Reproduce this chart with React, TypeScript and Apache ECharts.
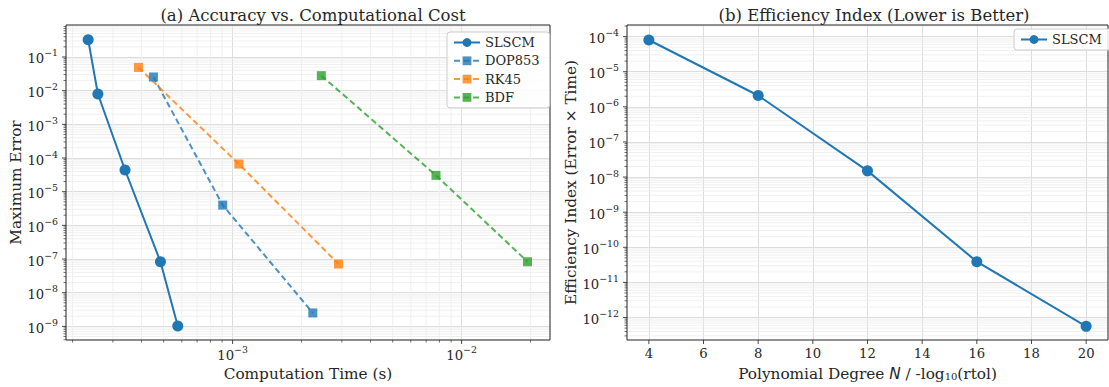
import React, { useEffect, useRef } from "react";
import * as echarts from "echarts";

const FONT = "DejaVu Serif";
const TEXT = "#262626";
const BLUE = "#1f77b4";
const ORANGE = "#ff7f0e";
const GREEN = "#2ca02c";
const MAJOR_GRID = "#dddddd";
const MINOR_GRID = "#ececec";
const TICK = "#333333";

const TITLE_SIZE = 16.5;
const NAME_SIZE = 15.3;
const TICK_SIZE = 13.2;
const SUP_SIZE = 9.4;
const LEGEND_SIZE = 13;

// ---- data ----
const methodNames = ["SLSCM", "DOP853", "RK45", "BDF"];
const slscmTime = [2.34e-4, 2.58e-4, 3.39e-4, 4.84e-4, 5.76e-4];
const slscmError = [0.327, 7.96e-3, 4.4e-5, 8.3e-8, 1.02e-9];
const dop853Time = [4.51e-4, 9.05e-4, 2.24e-3];
const dop853Error = [2.55e-2, 4.0e-6, 2.5e-9];
const rk45Time = [3.88e-4, 1.065e-3, 2.9e-3];
const rk45Error = [4.9e-2, 6.6e-5, 7.1e-8];
const bdfTime = [2.44e-3, 7.73e-3, 1.94e-2];
const bdfError = [2.79e-2, 3.05e-5, 8.3e-8];
const degrees = [4, 8, 12, 16, 20];
const efficiency = [8.0e-5, 2.1e-6, 1.5e-8, 3.9e-11, 5.6e-13];
const degreeTicks = [4, 6, 8, 10, 12, 14, 16, 18, 20];

// axis ranges (log10 exponents for log axes)
const leftXRange = [-3.7276, -1.614];
const leftYRange = [-9.405, -0.05];
const rightXRange = [3.2, 20.8];
const rightYRange = [-12.64, -3.67];

const zip = (a: number[], b: number[]) => a.map((v, i) => [v, b[i]]);

function logMajor(lo: number, hi: number): number[] {
  const out: number[] = [];
  for (let d = Math.ceil(lo); d <= Math.floor(hi); d++) out.push(Math.pow(10, d));
  return out;
}
function logMinor(lo: number, hi: number): number[] {
  const out: number[] = [];
  for (let d = Math.floor(lo); d <= Math.ceil(hi); d++) {
    for (let m = 2; m <= 9; m++) {
      const v = m * Math.pow(10, d);
      const l = Math.log10(v);
      if (l > lo && l < hi) out.push(v);
    }
  }
  return out;
}

const supLabel = (v: number) => {
  const e = Math.log10(v);
  const r = Math.round(e);
  if (Math.abs(e - r) > 1e-6) return "";
  return `{b|10}{s|${r < 0 ? "\u2212" : ""}${Math.abs(r)}}`;
};

const supRich = {
  b: { fontFamily: FONT, fontSize: TICK_SIZE, color: TEXT, lineHeight: 17, verticalAlign: "bottom" },
  s: { fontFamily: FONT, fontSize: SUP_SIZE, color: TEXT, lineHeight: 8, verticalAlign: "top" },
};

function decor(
  xAxisIndex: number,
  yAxisIndex: number,
  xMajor: number[],
  xMinor: number[],
  yMajor: number[],
  yMinor: number[],
  ref: number[]
) {
  return {
    type: "custom",
    xAxisIndex,
    yAxisIndex,
    z: 1,
    silent: true,
    clip: false,
    data: [ref],
    renderItem: (params: any, api: any) => {
      const cs = params.coordSys;
      const L = cs.x,
        T = cs.y,
        R = cs.x + cs.width,
        B = cs.y + cs.height;
      const ch: any[] = [];
      const ln = (x1: number, y1: number, x2: number, y2: number, stroke: string, w: number) =>
        ch.push({ type: "line", silent: true, shape: { x1, y1, x2, y2 }, style: { stroke, lineWidth: w } });
      xMinor.forEach((v) => {
        const x = api.coord([v, ref[1]])[0];
        ln(x, T, x, B, MINOR_GRID, 0.8);
      });
      yMinor.forEach((v) => {
        const y = api.coord([ref[0], v])[1];
        ln(L, y, R, y, MINOR_GRID, 0.8);
      });
      xMinor.forEach((v) => {
        const x = api.coord([v, ref[1]])[0];
        ln(x, B, x, B + 2.5, TICK, 0.7);
      });
      xMajor.forEach((v) => {
        const x = api.coord([v, ref[1]])[0];
        ln(x, B, x, B + 4, TICK, 0.9);
      });
      yMinor.forEach((v) => {
        const y = api.coord([ref[0], v])[1];
        ln(L - 2.5, y, L, y, TICK, 0.7);
      });
      yMajor.forEach((v) => {
        const y = api.coord([ref[0], v])[1];
        ln(L - 4, y, L, y, TICK, 0.9);
      });
      ch.push({
        type: "rect",
        silent: true,
        shape: { x: L, y: T, width: cs.width, height: cs.height },
        style: { fill: "none", stroke: "#222222", lineWidth: 1 },
      });
      return { type: "group", children: ch };
    },
  };
}

const logAxisCommon = (range: number[]) => ({
  type: "log",
  logBase: 10,
  min: Math.pow(10, range[0]),
  max: Math.pow(10, range[1]),
  splitNumber: 10,
  axisLine: { show: false },
  axisTick: { show: false },
  splitLine: { show: true, showMinLine: false, showMaxLine: false, lineStyle: { color: MAJOR_GRID, width: 1 } },
  minorTick: { show: false },
  minorSplitLine: { show: false },
});

const legendCommon = {
  orient: "vertical",
  padding: [3, 10, 3, 6],
  itemGap: 3.3,
  itemWidth: 26,
  itemHeight: 11,
  backgroundColor: "rgba(255,255,255,0.85)",
  borderColor: "#cccccc",
  borderWidth: 1,
  borderRadius: 3,
  textStyle: { fontFamily: FONT, fontSize: LEGEND_SIZE, color: TEXT, lineHeight: 15 },
};

export default function App() {
  const ref = useRef<HTMLDivElement>(null);
  useEffect(() => {
    if (!ref.current) return;
    const chart = echarts.init(ref.current, undefined, { renderer: "svg" });
    const lineBase = { type: "line", z: 3, showSymbol: true, emphasis: { disabled: true } };
    const option: any = {
      animation: false,
      backgroundColor: "#ffffff",
      textStyle: { fontFamily: FONT },
      title: [
        {
          text: "(a) Accuracy vs. Computational Cost",
          left: 308,
          top: 2,
          textAlign: "center",
          textStyle: { fontFamily: FONT, fontSize: TITLE_SIZE, fontWeight: "normal", color: TEXT },
        },
        {
          text: "(b) Efficiency Index (Lower is Better)",
          left: 869,
          top: 2,
          textAlign: "center",
          textStyle: { fontFamily: FONT, fontSize: TITLE_SIZE, fontWeight: "normal", color: TEXT },
        },
      ],
      grid: [
        { left: 66, top: 25, width: 484, height: 315, show: false, outerBoundsMode: "none" },
        { left: 627, top: 25, width: 481, height: 315, show: false, outerBoundsMode: "none" },
      ],
      legend: [
        { ...legendCommon, data: methodNames, left: 447, top: 32 },
        { ...legendCommon, data: ["SLSCM"], left: 1014, top: 29 },
      ],
      xAxis: [
        {
          ...logAxisCommon(leftXRange),
          gridIndex: 0,
          name: "Computation Time (s)",
          nameLocation: "middle",
          nameGap: 23,
          nameTextStyle: { fontFamily: FONT, fontSize: NAME_SIZE, color: TEXT },
          axisLabel: {
            margin: 5,
            showMinLabel: false,
            showMaxLabel: false,
            formatter: supLabel,
            rich: supRich,
          },
        },
        {
          type: "value",
          gridIndex: 1,
          min: rightXRange[0],
          max: rightXRange[1],
          splitNumber: 8,
          axisLine: { show: false },
          axisTick: { show: false },
          splitLine: { show: true, showMinLine: false, showMaxLine: false, lineStyle: { color: MAJOR_GRID, width: 1 } },
          name: "{t|Polynomial Degree }{i|N}{t| / -log}{sub|10}{t|(rtol)}",
          nameLocation: "middle",
          nameGap: 23,
          nameTextStyle: {
            rich: {
              t: { fontFamily: FONT, fontSize: NAME_SIZE, color: TEXT, lineHeight: 18, verticalAlign: "bottom" },
              i: { fontFamily: "DejaVu Sans", fontStyle: "italic", fontSize: NAME_SIZE, color: TEXT, lineHeight: 18, verticalAlign: "bottom" },
              sub: { fontFamily: FONT, fontSize: 10, color: TEXT, lineHeight: 13, verticalAlign: "bottom" },
            },
          },
          axisLabel: {
            margin: 7,
            showMinLabel: false,
            showMaxLabel: false,
            fontFamily: FONT,
            fontSize: TICK_SIZE,
            color: TEXT,
          },
        },
      ],
      yAxis: [
        {
          ...logAxisCommon(leftYRange),
          gridIndex: 0,
          name: "Maximum Error",
          nameLocation: "middle",
          nameGap: 42,
          nameRotate: 90,
          nameTextStyle: { fontFamily: FONT, fontSize: NAME_SIZE, color: TEXT },
          axisLabel: {
            margin: 8,
            showMinLabel: false,
            showMaxLabel: false,
            formatter: supLabel,
            rich: supRich,
          },
        },
        {
          ...logAxisCommon(rightYRange),
          gridIndex: 1,
          name: "Efficiency Index (Error \u00d7 Time)",
          nameLocation: "middle",
          nameGap: 47.5,
          nameRotate: 90,
          nameTextStyle: { fontFamily: FONT, fontSize: NAME_SIZE, color: TEXT },
          axisLabel: {
            margin: 8,
            showMinLabel: false,
            showMaxLabel: false,
            formatter: supLabel,
            rich: supRich,
          },
        },
      ],
      series: [
        decor(
          0,
          0,
          logMajor(leftXRange[0], leftXRange[1]),
          logMinor(leftXRange[0], leftXRange[1]),
          logMajor(leftYRange[0], leftYRange[1]),
          logMinor(leftYRange[0], leftYRange[1]),
          [1e-3, 1e-5]
        ),
        decor(
          1,
          1,
          degreeTicks,
          [],
          logMajor(rightYRange[0], rightYRange[1]),
          logMinor(rightYRange[0], rightYRange[1]),
          [10, 1e-8]
        ),
        {
          ...lineBase,
          name: "SLSCM",
          xAxisIndex: 0,
          yAxisIndex: 0,
          data: zip(slscmTime, slscmError),
          symbol: "circle",
          symbolSize: 11,
          lineStyle: { color: BLUE, width: 2 },
          itemStyle: { color: BLUE },
        },
        {
          ...lineBase,
          name: "DOP853",
          xAxisIndex: 0,
          yAxisIndex: 0,
          data: zip(dop853Time, dop853Error),
          symbol: "rect",
          symbolSize: 9,
          lineStyle: { color: BLUE, width: 2, type: [6, 3.5], opacity: 0.8 },
          itemStyle: { color: BLUE, opacity: 0.8 },
        },
        {
          ...lineBase,
          name: "RK45",
          xAxisIndex: 0,
          yAxisIndex: 0,
          data: zip(rk45Time, rk45Error),
          symbol: "rect",
          symbolSize: 9,
          lineStyle: { color: ORANGE, width: 2, type: [6, 3.5], opacity: 0.8 },
          itemStyle: { color: ORANGE, opacity: 0.8 },
        },
        {
          ...lineBase,
          name: "BDF",
          xAxisIndex: 0,
          yAxisIndex: 0,
          data: zip(bdfTime, bdfError),
          symbol: "rect",
          symbolSize: 9,
          lineStyle: { color: GREEN, width: 2, type: [6, 3.5], opacity: 0.8 },
          itemStyle: { color: GREEN, opacity: 0.8 },
        },
        {
          ...lineBase,
          name: "SLSCM",
          xAxisIndex: 1,
          yAxisIndex: 1,
          data: zip(degrees, efficiency),
          symbol: "circle",
          symbolSize: 11,
          lineStyle: { color: BLUE, width: 2 },
          itemStyle: { color: BLUE },
        },
      ],
    };
    chart.setOption(option);
    return () => chart.dispose();
  }, []);
  return (
    <div
      ref={ref}
      style={{ position: "absolute", left: 0, top: 0, width: 1109, height: 387, background: "#fff" }}
    />
  );
}
